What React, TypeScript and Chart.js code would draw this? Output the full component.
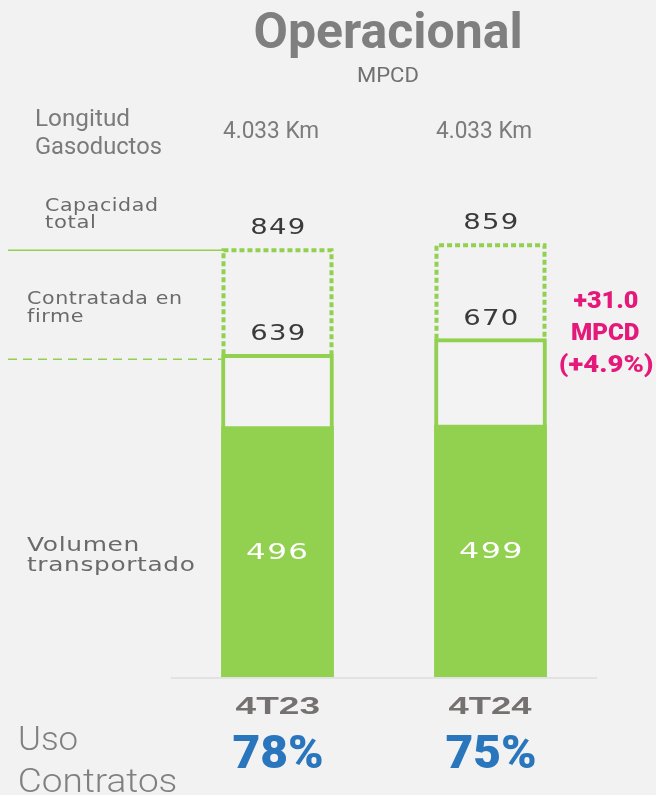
import React, { useEffect, useRef } from 'react';
import { Chart, registerables } from 'chart.js';

Chart.register(...registerables);

// ---- data ----
const categories = ['4T23', '4T24'];
const capacidadTotal = [849, 859];
const contratadaFirme = [639, 670];
const volumenTransportado = [496, 499];
const longitudGasoductos = ['4.033 Km', '4.033 Km'];
const usoContratos = ['78%', '75%'];
const variacionLines = ['+31.0', 'MPCD', '(+4.9%)'];

const GREEN = '#92d050';
const BG = '#f2f2f2';

function fitText(
  ctx: CanvasRenderingContext2D,
  text: string,
  x: number,
  y: number,
  font: string,
  color: string,
  width: number | null,
  align: 'left' | 'center' | 'right' = 'left',
  spacing = '0px'
) {
  ctx.save();
  ctx.font = font;
  ctx.fillStyle = color;
  (ctx as any).letterSpacing = spacing;
  ctx.textBaseline = 'alphabetic';
  ctx.textAlign = 'left';
  const m = ctx.measureText(text);
  const inkL = m.actualBoundingBoxLeft;
  const inkW = m.actualBoundingBoxLeft + m.actualBoundingBoxRight;
  const s = width ? width / inkW : 1;
  const w = inkW * s;
  const left = align === 'center' ? x - w / 2 : align === 'right' ? x - w : x;
  ctx.translate(left, y);
  ctx.scale(s, 1);
  ctx.fillText(text, inkL, 0);
  ctx.restore();
}

const overlayPlugin = {
  id: 'overlay',
  beforeDraw(chart: any) {
    const ctx = chart.ctx;
    ctx.save();
    ctx.fillStyle = BG;
    ctx.fillRect(0, 0, chart.width, chart.height);
    ctx.restore();
  },
  afterDatasetsDraw(chart: any) {
    const ctx: CanvasRenderingContext2D = chart.ctx;
    const yScale = chart.scales.y;
    const area = chart.chartArea;
    const volMeta = chart.getDatasetMeta(0);
    const conMeta = chart.getDatasetMeta(1);
    const capMeta = chart.getDatasetMeta(2);

    // baseline
    ctx.save();
    ctx.strokeStyle = '#dcdcdc';
    ctx.lineWidth = 1.5;
    ctx.beginPath();
    ctx.moveTo(area.left, area.bottom + 1);
    ctx.lineTo(area.right, area.bottom + 1);
    ctx.stroke();
    ctx.restore();

    // dotted capacity outlines
    capMeta.data.forEach((bar: any, i: number) => {
      const conTop = conMeta.data[i].y;
      const l = bar.x - bar.width / 2 + 2;
      const r = bar.x + bar.width / 2 - 2;
      const t = bar.y + 2;
      ctx.save();
      ctx.strokeStyle = GREEN;
      ctx.lineWidth = 4;
      ctx.setLineDash([5, 3]);
      ctx.beginPath();
      ctx.moveTo(l, conTop);
      ctx.lineTo(l, t);
      ctx.lineTo(r, t);
      ctx.lineTo(r, conTop);
      ctx.stroke();
      ctx.restore();
    });

    // reference lines to the left
    const firstBar = capMeta.data[0];
    const barLeft = firstBar.x - firstBar.width / 2;
    ctx.save();
    ctx.strokeStyle = GREEN;
    ctx.lineWidth = 1.5;
    const yCap = yScale.getPixelForValue(capacidadTotal[0]) + 2;
    ctx.beginPath();
    ctx.moveTo(8, yCap);
    ctx.lineTo(barLeft + 3, yCap);
    ctx.stroke();
    const yCon = yScale.getPixelForValue(contratadaFirme[0]) + 5;
    ctx.setLineDash([9, 6]);
    ctx.beginPath();
    ctx.moveTo(8, yCon);
    ctx.lineTo(barLeft, yCon);
    ctx.stroke();
    ctx.restore();

    // value labels
    const numFont = '21px "DejaVu Sans"';
    capMeta.data.forEach((bar: any, i: number) => {
      fitText(ctx, String(capacidadTotal[i]), bar.x, bar.y - 14.5, numFont, '#3a3a3a', 52, 'center', '1px');
    });
    conMeta.data.forEach((bar: any, i: number) => {
      fitText(ctx, String(contratadaFirme[i]), bar.x, bar.y - 14, numFont, '#3a3a3a', 52, 'center', '1px');
    });
    volMeta.data.forEach((bar: any, i: number) => {
      const mid = (bar.y + bar.base) / 2;
      fitText(ctx, String(volumenTransportado[i]), bar.x, mid + 7, numFont, '#ffffff', 60, 'center', '1px');
    });

    // category labels, usage, length
    volMeta.data.forEach((bar: any, i: number) => {
      fitText(ctx, categories[i], bar.x, 714, 'bold 24px "Liberation Sans"', '#767171', 84, 'center');
      fitText(ctx, usoContratos[i], bar.x + 0.5, 768, '900 46px Roboto', '#2a76bd', 89, 'center');
      fitText(ctx, longitudGasoductos[i], bar.x - 7, 138, '23px Roboto', '#7b7b7b', 95, 'center');
    });

    // title
    fitText(ctx, 'Operacional', 388, 48, 'bold 50px Roboto', '#7f7f7f', 265, 'center');
    fitText(ctx, 'MPCD', 388, 82, '21px Roboto', '#707070', 60, 'center');

    // left texts
    fitText(ctx, 'Longitud', 36, 126, '23px Roboto', '#7b7b7b', 93, 'left');
    fitText(ctx, 'Gasoductos', 36, 154, '23px Roboto', '#7b7b7b', 125, 'left');

    const lblColor = '#6a6a6a';
    const smallFont = '17px "DejaVu Sans"';
    const midFont = '19px "DejaVu Sans"';
    fitText(ctx, 'Capacidad', 45, 211, smallFont, lblColor, 112, 'left', '0.5px');
    fitText(ctx, 'total', 45, 228, smallFont, lblColor, 50, 'left', '0.5px');
    fitText(ctx, 'Contratada en', 27, 304, smallFont, lblColor, 154, 'left', '0.5px');
    fitText(ctx, 'firme', 27, 322, smallFont, lblColor, 56, 'left', '0.5px');
    fitText(ctx, 'Volumen', 27, 551, midFont, lblColor, 111, 'left', '0.5px');
    fitText(ctx, 'transportado', 27, 571, midFont, lblColor, 167, 'left', '0.5px');

    fitText(ctx, 'Uso', 20, 750, '300 34px Roboto', '#808080', 57, 'left');
    fitText(ctx, 'Contratos', 20, 792, '300 34px Roboto', '#808080', 156, 'left');

    // variation annotation
    const pink = '#e5197a';
    const pinkFont = '900 24px Roboto';
    const vb = capMeta.data[1];
    const vx = vb.x + vb.width / 2 + 59;
    fitText(ctx, variacionLines[0], vx, 308, pinkFont, pink, 64, 'center');
    fitText(ctx, variacionLines[1], vx, 340, pinkFont, pink, 67, 'center');
    fitText(ctx, variacionLines[2], vx + 1, 372, pinkFont, pink, 93, 'center');
  },
};

export default function App() {
  const canvasRef = useRef<HTMLCanvasElement | null>(null);

  useEffect(() => {
    document.body.style.margin = '0';
    document.body.style.background = BG;
    const canvas = canvasRef.current;
    if (!canvas) return;
    const chart = new Chart(canvas, {
      type: 'bar',
      data: {
        labels: categories,
        datasets: [
          {
            label: 'Volumen transportado',
            data: volumenTransportado,
            backgroundColor: GREEN,
            borderWidth: 0,
            grouped: false,
            barThickness: 112,
            order: 0,
          } as any,
          {
            label: 'Contratada en firme',
            data: contratadaFirme,
            backgroundColor: '#f3f3f3',
            borderColor: GREEN,
            borderWidth: { top: 4, left: 4, right: 4, bottom: 0 },
            borderSkipped: false,
            grouped: false,
            barThickness: 112,
            order: 1,
          } as any,
          {
            label: 'Capacidad total',
            data: capacidadTotal,
            backgroundColor: 'rgba(0,0,0,0)',
            borderWidth: 0,
            grouped: false,
            barThickness: 112,
            order: 2,
          } as any,
        ],
      },
      options: {
        animation: false,
        responsive: true,
        maintainAspectRatio: false,
        events: [],
        layout: { padding: { left: 171, right: 59, top: 172, bottom: 118 } },
        plugins: {
          legend: { display: false },
          title: { display: false },
          tooltip: { enabled: false },
        },
        scales: {
          x: { display: false },
          y: { display: false, min: 0, max: 1000 },
        },
      },
      plugins: [overlayPlugin],
    });
    return () => chart.destroy();
  }, []);

  return (
    <div style={{ position: 'relative', width: 656, height: 795, background: BG }}>
      <canvas ref={canvasRef} />
    </div>
  );
}
